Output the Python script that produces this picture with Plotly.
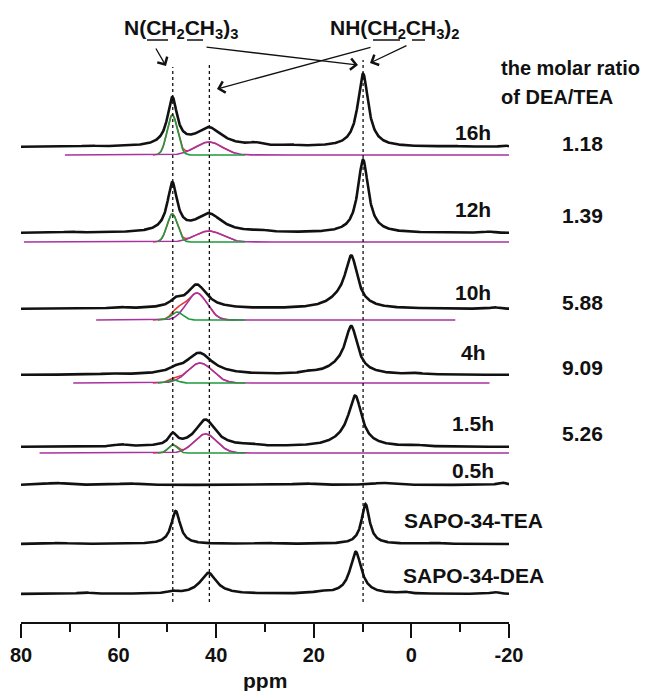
import numpy as np
import plotly.graph_objects as go

# ---------------- data ----------------
ppm = np.linspace(80, -20, 1201)

labels = ["16h", "12h", "10h", "4h", "1.5h", "0.5h", "SAPO-34-TEA", "SAPO-34-DEA"]
ratios = ["1.18", "1.39", "5.88", "9.09", "5.26"]

# Lorentzian peaks of the measured spectra: (position ppm, height, fwhm ppm)
peaks_16h = [(9.9, 73, 2.6), (49.0, 47, 2.4), (41.5, 18.5, 6.5), (32.0, 2.5, 3.0), (25.0, 1.2, 3.0),
             (66.0, 1.0, 3.0), (-8.0, 1.0, 3.0), (-19.0, 1.5, 1.5)]
peaks_12h = [(9.9, 73, 2.6), (49.0, 48, 2.4), (41.5, 18.5, 6.5), (31.0, 1.5, 3.0),
             (70.0, 1.0, 3.0), (-16.0, 1.2, 2.0)]
peaks_10h = [(12.3, 48, 3.0), (14.5, 8, 6.5), (44.0, 24, 5.0), (48.3, 6, 2.5),
             (60.0, 1.5, 3.0), (-17.0, 1.5, 2.0)]
peaks_4h = [(12.3, 44, 3.0), (14.5, 7, 6.5), (43.5, 22, 6.5), (48.5, 3, 2.5),
             (21.0, 1.5, 3.0), (-1.0, 1.2, 3.0), (62.0, 1.0, 3.0)]
peaks_1_5h = [(11.5, 47, 3.2), (13.5, 6, 6.5), (42.2, 27, 5.0), (48.9, 11, 2.0),
              (59.5, 2.0, 3.0), (33.0, 1.5, 3.0), (-1.0, 1.2, 3.0)]
peaks_0_5h = [(73.0, 2.0, 5.0), (58.0, 1.5, 5.0), (22.0, 1.5, 5.0), (6.0, 2.0, 5.0), (-18.5, 2.5, 2.0)]
peaks_tea = [(48.3, 33, 2.2), (9.4, 40, 2.0), (72.0, 1.0, 4.0), (30.0, 1.0, 4.0), (-5.0, 1.0, 3.0)]
peaks_dea = [(41.6, 21, 4.0), (11.4, 42, 2.8), (49.0, 2.0, 2.0), (18.6, 1.8, 3.0), (1.5, 1.8, 2.0),
             (67.0, 1.5, 3.0), (-17.0, 1.8, 2.0)]
spectra_peaks = [peaks_16h, peaks_12h, peaks_10h, peaks_4h, peaks_1_5h, peaks_0_5h, peaks_tea, peaks_dea]

# Fitted (deconvoluted) components, Gaussian: (position ppm, height, fwhm ppm)
fit_tea_comp = [(49.0, 40, 2.5), (49.0, 28, 2.5), (48.0, 8, 2.8), (48.8, 3, 2.5), (48.9, 8, 2.2)]
fit_dea_comp = [(41.5, 13, 6.5), (41.5, 11, 6.5), (44.0, 27, 5.0), (43.3, 20, 6.0), (42.2, 19, 5.5)]
fit_ranges = [(71.0, -20.5), (79.4, -20.5), (64.6, -9.0), (69.3, -16.0), (76.2, -20.5)]

ref_lines = [48.9, 41.4, 9.9]
xticks = [80, 60, 40, 20, 0, -20]

# ---------------- layout constants ----------------
W, H = 653, 691
L, R, T, B = 21, 144, 0, 69
PW, PH = W - L - R, H - T - B

offsets = [475, 389, 313, 247, 175, 137, 78, 28]
fit_offsets = [467, 380, 302, 239, 169]
label_py = [133, 210, 292, 352, 423, 470, 520, 575]
ratio_py = [143, 215, 302, 367, 433]

BLACK = "#111111"
GREEN = "#1f9a3f"
MAGENTA = "#a8329f"
RED = "#e8352f"
FONT = "Liberation Sans, Arial, sans-serif"


def lor(x, c, h, w):
    return h / (1 + ((x - c) / (w / 2.0)) ** 2)


def gau(x, c, h, w):
    return h * np.exp(-4 * np.log(2) * ((x - c) / w) ** 2)


def pxx(px):
    return (px - L) / PW


def pyy(py):
    return (PH - (py - T)) / PH


fig = go.Figure()

# fitted components
for i, (rng, off) in enumerate(zip(fit_ranges, fit_offsets)):
    left, right = rng
    xs = np.linspace(left, right, 900)
    g = gau(xs, *fit_tea_comp[i])
    m = gau(xs, *fit_dea_comp[i])
    mask_r = (xs <= 53) & (xs >= 36)
    fig.add_trace(go.Scatter(x=xs[mask_r], y=off + (g + m)[mask_r], mode="lines",
                             line=dict(color=RED, width=1.5), hoverinfo="skip"))
    fig.add_trace(go.Scatter(x=xs, y=off + m, mode="lines",
                             line=dict(color=MAGENTA, width=1.6), hoverinfo="skip"))
    mask_g = (xs <= 52) & (xs >= 34)
    fig.add_trace(go.Scatter(x=xs[mask_g], y=off + g[mask_g], mode="lines",
                             line=dict(color=GREEN, width=1.6), hoverinfo="skip"))

# measured spectra
for pk, off in zip(spectra_peaks, offsets):
    y = np.zeros_like(ppm)
    for c, h, w in pk:
        y = y + lor(ppm, c, h, w)
    fig.add_trace(go.Scatter(x=ppm, y=off + y, mode="lines",
                             line=dict(color=BLACK, width=2.6), hoverinfo="skip"))

shapes = []
tops = [67, 65, 60]
for xv, tp in zip(ref_lines, tops):
    shapes.append(dict(type="line", xref="x", yref="y", x0=xv, x1=xv,
                       y0=PH - (602 - T), y1=PH - (tp - T),
                       line=dict(color=BLACK, width=1.3, dash="dot")))

# underline bars in the group labels
for x0, x1 in [(147, 168), (187, 203), (373, 400), (412, 425)]:
    shapes.append(dict(type="line", xref="paper", yref="paper",
                       x0=pxx(x0), x1=pxx(x1), y0=pyy(40), y1=pyy(40),
                       line=dict(color=BLACK, width=1.5)))

ann = []
for lab, py in zip(labels, label_py):
    ann.append(dict(text="<b>%s</b>" % lab, x=pxx(473), y=pyy(py), xref="paper", yref="paper",
                    showarrow=False, xanchor="center", yanchor="middle",
                    font=dict(family=FONT, size=21, color=BLACK)))
for r, py in zip(ratios, ratio_py):
    ann.append(dict(text="<b>%s</b>" % r, x=pxx(582), y=pyy(py), xref="paper", yref="paper",
                    showarrow=False, xanchor="center", yanchor="middle",
                    font=dict(family=FONT, size=21, color=BLACK)))
ann.append(dict(text="<b>the molar ratio</b>", x=pxx(499), y=pyy(68), xref="paper", yref="paper",
                showarrow=False, xanchor="left", yanchor="middle",
                font=dict(family=FONT, size=20, color=BLACK)))
ann.append(dict(text="<b>of DEA/TEA</b>", x=pxx(499), y=pyy(97), xref="paper", yref="paper",
                showarrow=False, xanchor="left", yanchor="middle",
                font=dict(family=FONT, size=20, color=BLACK)))
ann.append(dict(text="<b>N(CH<sub>2</sub>CH<sub>3</sub>)<sub>3</sub></b>", x=pxx(122), y=pyy(29),
                xref="paper", yref="paper", showarrow=False, xanchor="left", yanchor="middle",
                font=dict(family=FONT, size=21, color=BLACK)))
ann.append(dict(text="<b>NH(CH<sub>2</sub>CH<sub>3</sub>)<sub>2</sub></b>", x=pxx(328), y=pyy(29),
                xref="paper", yref="paper", showarrow=False, xanchor="left", yanchor="middle",
                font=dict(family=FONT, size=21, color=BLACK)))
ann.append(dict(text="<b>ppm</b>", x=pxx(265), y=pyy(680), xref="paper", yref="paper",
                showarrow=False, xanchor="center", yanchor="middle",
                font=dict(family=FONT, size=21, color=BLACK)))

# arrows: (tip px, tip py, tail px, tail py)
for tx, ty, sx, sy in [(166, 66, 155, 47), (358, 65, 205, 47), (217, 89, 372, 47), (370, 63, 408, 45)]:
    ann.append(dict(text="", x=pxx(tx), y=pyy(ty), xref="paper", yref="paper",
                    ax=sx - tx, ay=sy - ty, axref="pixel", ayref="pixel",
                    showarrow=True, arrowhead=4, arrowsize=1.7, arrowwidth=1.3,
                    arrowcolor=BLACK, standoff=0))

fig.update_layout(
    width=W, height=H, margin=dict(l=L, r=R, t=T, b=B),
    paper_bgcolor="white", plot_bgcolor="white", showlegend=False,
    shapes=shapes, annotations=ann,
    xaxis=dict(range=[80, -20], tickvals=xticks, ticktext=["<b>%d</b>" % v for v in xticks],
               showline=True, linecolor=BLACK, linewidth=2, ticks="outside", ticklen=14,
               tickwidth=2, tickcolor=BLACK, showgrid=False, zeroline=False,
               tickfont=dict(family=FONT, size=20, color=BLACK),
               minor=dict(tickvals=[70, 50, 30, 10, -10], ticks="outside", ticklen=8,
                          tickwidth=2, tickcolor=BLACK, showgrid=False)),
    yaxis=dict(range=[0, PH], visible=False, fixedrange=True),
)

fig.write_html("out.html", config={"displayModeBar": False},
               post_script="document.body.style.margin='0px';document.body.style.overflow='hidden';")
